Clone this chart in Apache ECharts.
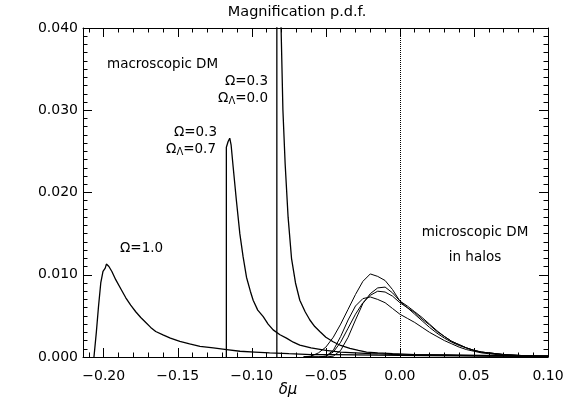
<!DOCTYPE html>
<html>
<head>
<meta charset="utf-8">
<script src="https://cdn.jsdelivr.net/npm/echarts@6/dist/echarts.min.js"></script>
<style>
  html, body { margin: 0; background: #fff; }
  #chart { width: 575px; height: 415px; }
</style>
</head>
<body>
<div id="chart"></div>
<script>
// tick marks and labels
const xMajorTicks = [-0.20, -0.15, -0.10, -0.05, 0.00, 0.05, 0.10];
const xMinorTicks = [-0.21, -0.20, -0.19, -0.18, -0.17, -0.16, -0.15, -0.14, -0.13, -0.12, -0.11,
  -0.10, -0.09, -0.08, -0.07, -0.06, -0.05, -0.04, -0.03, -0.02, -0.01, 0.00,
  0.01, 0.02, 0.03, 0.04, 0.05, 0.06, 0.07, 0.08, 0.09, 0.10];

// macroscopic DM, Omega = 1.0
const om1X = [-0.2066, -0.2050, -0.2035, -0.2020, -0.2005, -0.1990, -0.1982, -0.1965, -0.1945, -0.1919,
  -0.1885, -0.1851, -0.1818, -0.1784, -0.1750, -0.1716, -0.1683, -0.1649, -0.1600, -0.1550,
  -0.1486, -0.1420, -0.1350, -0.1260, -0.1170, -0.1080, -0.0980, -0.0880, -0.0750, -0.0600,
  -0.0450, -0.0300, -0.0150, 0.0000, 0.0200, 0.0400, 0.0600, 0.0800, 0.1000];
const om1Y = [0, 0.0030, 0.0062, 0.0090, 0.0104, 0.0108, 0.0113, 0.0110, 0.0104, 0.0094,
  0.0083, 0.0072, 0.0063, 0.0055, 0.0048, 0.0042, 0.0036, 0.0031, 0.0027, 0.0023,
  0.0019, 0.0016, 0.0013, 0.0011, 0.0009, 0.0007, 0.0006, 0.0005, 0.0004, 0.0003,
  0.00028, 0.00025, 0.00022, 0.0002, 0.00018, 0.00015, 0.00012, 0.0001, 0.0001];

// macroscopic DM, Omega = 0.3, Omega_Lambda = 0.7
const om7X = [-0.1172, -0.1172, -0.1160, -0.1149, -0.1140, -0.1126, -0.1104, -0.1081, -0.1059, -0.1036,
  -0.1010, -0.0991, -0.0960, -0.0923, -0.0890, -0.0856, -0.0810, -0.0766, -0.0720, -0.0676,
  -0.0600, -0.0500, -0.0400, -0.0300, -0.0200, -0.0100, 0.0000, 0.0200, 0.0400, 0.0600,
  0.0800, 0.1000];
const om7Y = [0, 0.0255, 0.0262, 0.0266, 0.0258, 0.0231, 0.0190, 0.0150, 0.0122, 0.0097,
  0.0080, 0.0069, 0.0057, 0.0049, 0.0040, 0.0033, 0.0027, 0.0023, 0.0018, 0.00145,
  0.0011, 0.0008, 0.0006, 0.0005, 0.0004, 0.00035, 0.0003, 0.00025, 0.0002, 0.00015,
  0.0001, 0.0001];

// macroscopic DM, Omega = 0.3, Omega_Lambda = 0.0 (peak is off the top)
const om0X = [-0.0831, -0.0831, -0.0815, -0.0808, -0.0803, -0.0790, -0.0775, -0.0755, -0.0732, -0.0705,
  -0.0676, -0.0640, -0.0608, -0.0575, -0.0541, -0.0500, -0.0451, -0.0400, -0.0338, -0.0280,
  -0.0225, -0.0150, -0.0050, 0.0100, 0.0300, 0.0500, 0.0750, 0.1000];
const om0Y = [0, 0.0500, 0.0500, 0.0450, 0.0405, 0.0300, 0.0235, 0.0170, 0.0120, 0.0090,
  0.0069, 0.0055, 0.0045, 0.0037, 0.0031, 0.0024, 0.00185, 0.0014, 0.00105, 0.0008,
  0.0006, 0.0005, 0.0004, 0.0003, 0.00025, 0.0002, 0.00015, 0.0001];

// microscopic DM in halos
const microX = [-0.065, -0.060, -0.055, -0.050, -0.045, -0.040, -0.035, -0.030, -0.025, -0.020,
  -0.015, -0.010, -0.005, 0.000, 0.005, 0.010, 0.015, 0.020, 0.025, 0.030,
  0.035, 0.040, 0.045, 0.050, 0.055, 0.060, 0.070, 0.080, 0.090, 0.100];
const microA = [0, 0.0001, 0.0005, 0.0012, 0.0024, 0.0040, 0.0058, 0.0076, 0.0092, 0.0101,
  0.0098, 0.0093, 0.0082, 0.0068, 0.0060, 0.0052, 0.0044, 0.0036, 0.0029, 0.0023,
  0.0018, 0.0014, 0.0011, 0.0008, 0.0006, 0.0005, 0.0003, 0.0002, 0.0001, 0.0001];
const microB = [0, 0, 0, 0, 0.0001, 0.0008, 0.0024, 0.0045, 0.0065, 0.0077,
  0.0084, 0.0085, 0.0078, 0.0068, 0.0062, 0.0055, 0.0048, 0.0040, 0.0032, 0.0025,
  0.0019, 0.0015, 0.0011, 0.0008, 0.0006, 0.0005, 0.0003, 0.0002, 0.0001, 0.0001];
const microC = [0, 0, 0, 0.0001, 0.0008, 0.0025, 0.0045, 0.0062, 0.0071, 0.0073,
  0.0070, 0.0066, 0.0059, 0.0052, 0.0047, 0.0042, 0.0036, 0.0030, 0.0025, 0.0020,
  0.0016, 0.0012, 0.0009, 0.0007, 0.0005, 0.0004, 0.0002, 0.0001, 0.0001, 0];
const microD = [0, 0, 0, 0.0001, 0.0006, 0.0018, 0.0035, 0.0052, 0.0066, 0.0075,
  0.0080, 0.0079, 0.0074, 0.0066, 0.0060, 0.0054, 0.0046, 0.0039, 0.0031, 0.0025,
  0.0019, 0.0015, 0.0011, 0.0008, 0.0006, 0.0005, 0.0003, 0.0002, 0.0001, 0.0001];

const font = "DejaVu Sans";
const zip = (xs, ys) => xs.map((x, i) => [x, ys[i]]);
const minus = (s) => s.replace("-", "\u2212");

function curve(name, xs, ys, width) {
  return {
    name: name,
    type: "line",
    data: zip(xs, ys),
    showSymbol: false,
    symbol: "none",
    animation: false,
    lineStyle: { color: "#000", width: width },
  };
}

function xAxisOf(pos, ticks, len, labels) {
  return {
    type: "value",
    position: pos,
    min: -0.214,
    max: 0.10,
    axisLine: { show: labels, onZero: false, lineStyle: { color: "#000", width: 1 } },
    axisTick: { show: true, inside: true, length: len, customValues: ticks, lineStyle: { color: "#000" } },
    axisLabel: pos === "bottom" && labels
      ? { show: true, customValues: xMajorTicks, formatter: (v) => minus(v.toFixed(2)),
          color: "#000", fontFamily: font, fontSize: 14, margin: 12 }
      : { show: false },
    splitLine: { show: false },
  };
}

function yAxisOf(pos) {
  return {
    type: "value",
    position: pos,
    min: 0,
    max: 0.04,
    interval: 0.01,
    axisLine: { show: true, onZero: false, lineStyle: { color: "#000", width: 1 } },
    axisTick: { show: true, inside: true, length: 9, lineStyle: { color: "#000" } },
    minorTick: { show: true, splitNumber: 10, length: 4.5, lineStyle: { color: "#000" } },
    axisLabel: pos === "left"
      ? { show: true, formatter: (v) => v.toFixed(3), color: "#000", fontFamily: font, fontSize: 14, margin: 5 }
      : { show: false },
    splitLine: { show: false },
  };
}

const chart = echarts.init(document.getElementById("chart"));

const xAxes = [
  xAxisOf("bottom", xMajorTicks, 9, true),
  xAxisOf("bottom", xMinorTicks, 4.5, false),
  xAxisOf("top", xMajorTicks, 9, true),
  xAxisOf("top", xMinorTicks, 4.5, false),
];

const series = [
  curve("om1", om1X, om1Y, 1.3),
  curve("om7", om7X, om7Y, 1.3),
  curve("om0", om0X, om0Y, 1.3),
  curve("microA", microX, microA, 1),
  curve("microB", microX, microB, 1),
  curve("microC", microX, microC, 1),
  curve("microD", microX, microD, 1),
];
series[0].markLine = {
  silent: true,
  symbol: "none",
  animation: false,
  label: { show: false },
  lineStyle: { color: "#000", type: "dotted", width: 1 },
  data: [{ xAxis: 0 }],
};

const txt = { fill: "#000", font: "13.5px " + font };
const rich = { s: { fontSize: 10, fontFamily: font, verticalAlign: "bottom", padding: [6, 0, 0, 0] } };

chart.setOption({
  backgroundColor: "#fff",
  animation: false,
  grid: { left: 83, right: 27, top: 28, bottom: 58 },
  xAxis: xAxes,
  yAxis: [yAxisOf("left"), yAxisOf("right")],
  series: series,
  graphic: [
    { type: "text", x: 297, y: 12, style: { text: "Magnification p.d.f.", fill: "#000", font: "14.5px " + font, align: "center", verticalAlign: "middle" } },
    { type: "text", x: 288, y: 390, style: { text: "\u03b4\u03bc", fill: "#000", font: "italic 15px " + font, align: "center", verticalAlign: "middle" } },
    { type: "text", x: 107, y: 64, style: Object.assign({ text: "macroscopic DM", verticalAlign: "middle" }, txt) },
    { type: "text", x: 268, y: 81, style: Object.assign({ text: "\u03a9=0.3", align: "right", verticalAlign: "middle" }, txt) },
    { type: "text", x: 268, y: 98, style: Object.assign({ text: "\u03a9{s|\u039b}=0.0", align: "right", verticalAlign: "middle", rich: rich }, txt) },
    { type: "text", x: 217, y: 132, style: Object.assign({ text: "\u03a9=0.3", align: "right", verticalAlign: "middle" }, txt) },
    { type: "text", x: 216, y: 149, style: Object.assign({ text: "\u03a9{s|\u039b}=0.7", align: "right", verticalAlign: "middle", rich: rich }, txt) },
    { type: "text", x: 120, y: 248, style: Object.assign({ text: "\u03a9=1.0", verticalAlign: "middle" }, txt) },
    { type: "text", x: 475, y: 232, style: Object.assign({ text: "microscopic DM", align: "center", verticalAlign: "middle" }, txt) },
    { type: "text", x: 475, y: 257, style: Object.assign({ text: "in halos", align: "center", verticalAlign: "middle" }, txt) },
  ],
});
</script>
</body>
</html>
